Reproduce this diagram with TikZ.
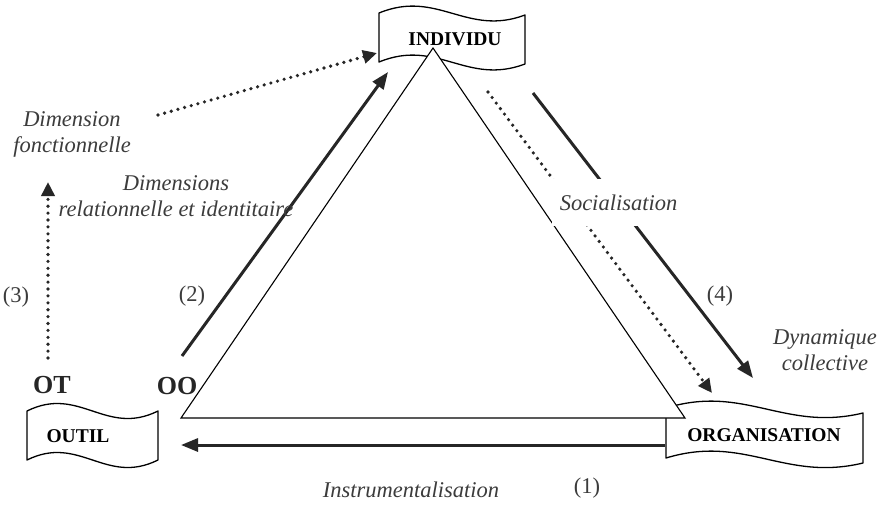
\documentclass[tikz,border=0pt]{standalone}
\usepackage{fontspec}
\setmainfont{Liberation Serif}
\usetikzlibrary{arrows.meta}
\definecolor{ink}{HTML}{262626}
\definecolor{labelgray}{HTML}{3C3C3C}

% wavy flag: x0, x1, y top, y bottom, wave depth, drop of the right side
\newcommand\wavebanner[6]{%
  \draw[banner] (#1,#3)
    .. controls ({#1+0.4*(#2-#1)},{#3-#5}) and ({#1+0.6*(#2-#1)},{#3+#5}) .. (#2,{#3+#6})
    -- (#2,{#4+#6})
    .. controls ({#1+0.6*(#2-#1)},{#4+#5}) and ({#1+0.4*(#2-#1)},{#4-#5}) .. (#1,#4)
    -- cycle;}

\begin{document}
\begin{tikzpicture}[x=1pt,y=-1pt,
  banner/.style={draw=black,line width=1.3pt,fill=white,line join=round},
  bannertext/.style={font=\fontsize{19.5}{22}\selectfont\bfseries,text=black,inner sep=0pt},
  tri/.style={draw=black,line width=1.1pt,fill=white,line join=miter},
  thickarrow/.style={draw=ink,line width=3pt,-{Triangle[length=17pt,width=13pt]}},
  dotarrow/.style={draw=ink,line width=3.6pt,line cap=round,dash pattern=on 0pt off 6.9pt,
    -{Triangle[length=14pt,width=13pt]}},
  lab/.style={font=\fontsize{22.5}{26}\selectfont\itshape,text=labelgray,inner sep=0pt,align=center},
  num/.style={font=\fontsize{22.5}{26}\selectfont,text=labelgray,inner sep=0pt},
  code/.style={font=\fontsize{26}{30}\selectfont\bfseries,text=ink,inner sep=0pt}]

\useasboundingbox (0,0) rectangle (878,507);
\fill[white] (0,0) rectangle (878,507);

% the three poles
\wavebanner{379}{525}{13}{62}{24}{2}
\wavebanner{27}{158}{411}{460}{26}{0}
\wavebanner{666}{863}{408}{458}{24}{5}

% the triangle sits over the banners
\coordinate (tA) at (433,48);
\coordinate (tB) at (181,418);
\coordinate (tC) at (685,418);
\draw[tri] (tA) -- (tB) -- (tC) -- cycle;

\node[bannertext] (indiv) at (455,39) {INDIVIDU};
\node[bannertext] (outil) at (78,436) {OUTIL};
\node[bannertext] (orga) at (764,435) {ORGANISATION};

% connector end points
\coordinate (fS) at (158,115);
\coordinate (fE) at (377,53);
\coordinate (rS) at (182,356);
\coordinate (rE) at (388,72);
\coordinate (vS) at (48,358);
\coordinate (vE) at (48,182);
\coordinate (iS) at (665,445);
\coordinate (iE) at (181,445);
\coordinate (sS) at (488,92);
\coordinate (sE) at (712,393);
\coordinate (dS) at (533,93);
\coordinate (dE) at (753,378);

\draw[dotarrow] (fS) -- (fE);
\draw[thickarrow] (rS) -- (rE);
\draw[dotarrow] (vS) -- (vE);
\draw[thickarrow] (iS) -- (iE);
\draw[dotarrow] (sS) -- (sE);
\draw[thickarrow] (dS) -- (dE);

% labels
\node[lab] (dimfonc) at (72,134) {Dimension\\fonctionnelle};
\node[lab] (dimrel) at (176,196) {Dimensions\\relationnelle et identitaire};
\node[lab,fill=white,minimum width=133pt,minimum height=47pt] (socia) at (618.5,202.5) {Socialisation};
\node[lab] (dyncol) at (825,350) {Dynamique\\collective};
\node[lab] (instr) at (411,490) {Instrumentalisation};

\node[num] (n1) at (587,488) {(1)};
\node[num] (n2) at (192,296) {(2)};
\node[num] (n3) at (16,297) {(3)};
\node[num] (n4) at (720,296) {(4)};

\node[code] (ot) at (52,385) {OT};
\node[code] (oo) at (177,386) {OO};
\end{tikzpicture}
\end{document}
